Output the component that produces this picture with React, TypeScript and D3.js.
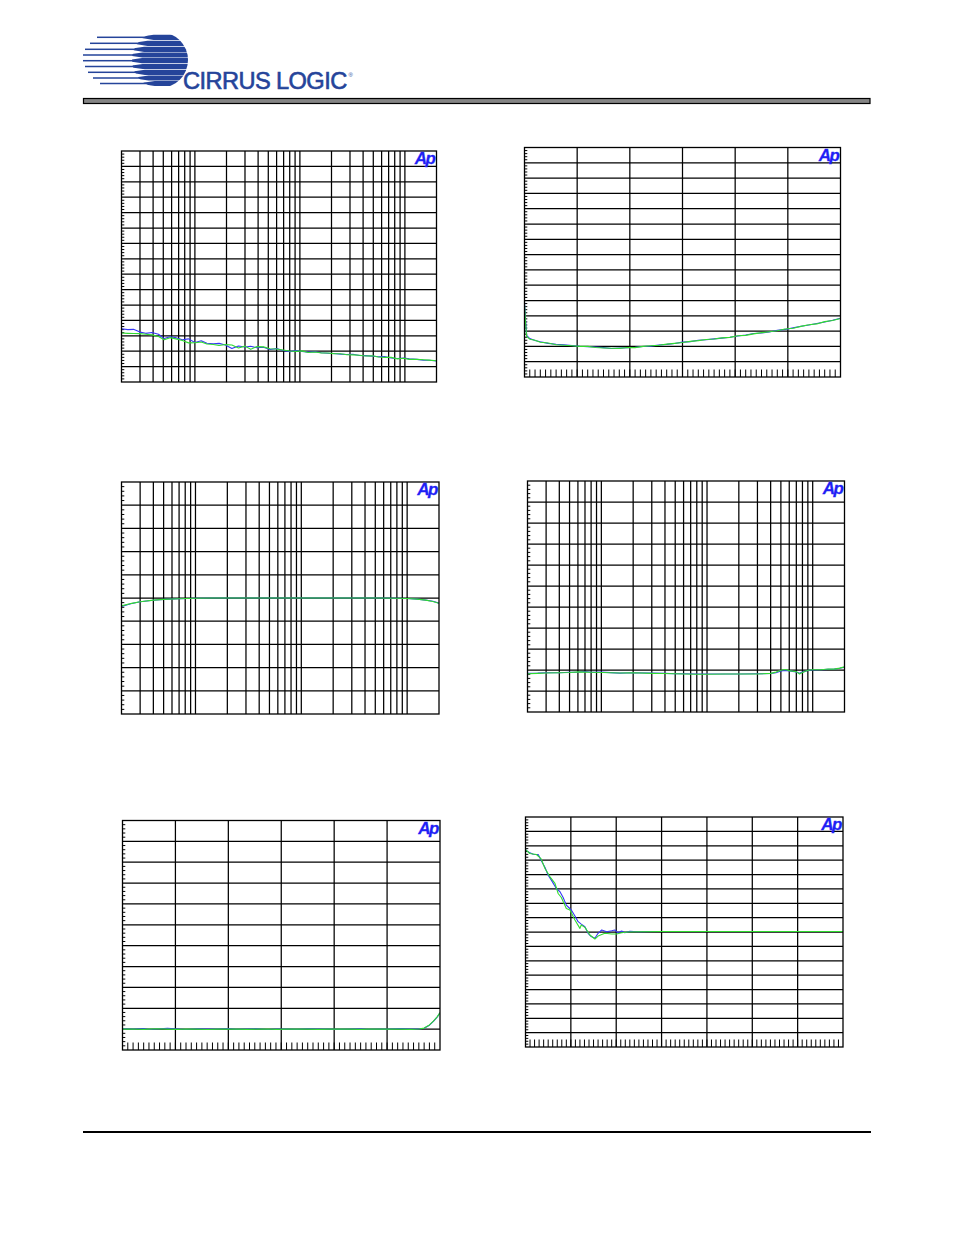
import React from "react";
import * as d3 from "d3";

// ---------- data ----------

// plot 1: noise vs frequency (log 20 Hz - 20 kHz)
const FREQ_1 = [20, 23, 26, 30, 34, 39, 45, 51, 58, 66, 76, 87, 100, 115, 130, 150, 170, 195, 225, 260, 300, 340, 390, 450, 520, 600, 690, 800, 920, 1050, 1200, 1400, 1600, 1850, 2100, 2450, 2800, 3200, 3700, 4200, 4900, 5600, 6400, 7400, 8500, 9800, 11000, 13000, 15000, 17000, 20000];
const NOISE_A = [-115.4, -116.0, -115.8, -117.6, -118.4, -117.9, -119.0, -121.8, -120.6, -121.2, -122.6, -122.0, -124.3, -123.2, -124.8, -125.2, -124.9, -126.0, -128.2, -126.6, -127.3, -126.8, -127.8, -127.4, -128.9, -128.3, -129.5, -130.3, -129.6, -130.2, -130.6, -130.4, -131.0, -131.3, -131.5, -131.9, -132.1, -132.0, -132.8, -132.9, -133.2, -133.6, -133.5, -134.4, -134.7, -134.5, -135.0, -135.3, -135.8, -135.9, -136.4];
const NOISE_B = [-118.2, -118.4, -118.5, -118.6, -119.0, -119.4, -120.5, -122.6, -121.2, -122.0, -123.1, -124.6, -124.5, -124.0, -125.3, -125.6, -126.3, -125.7, -126.0, -127.9, -126.7, -128.8, -127.0, -127.2, -128.4, -128.6, -129.2, -129.9, -130.1, -129.8, -130.8, -130.5, -131.2, -131.2, -131.6, -131.7, -132.3, -132.4, -132.6, -133.1, -133.0, -133.8, -134.0, -134.0, -135.0, -134.6, -135.3, -135.3, -135.6, -135.8, -136.2];

// plot 2: THD+N vs amplitude (linear)
const AMPL_2 = [-120, -119.6, -119.2, -118, -116, -114, -111, -108, -105, -102, -99, -96, -93, -90, -87, -84, -81, -78, -75, -72, -69, -66, -63, -60, -57, -54, -51, -48, -45, -42, -39, -36, -33, -30, -27, -24, -21, -18, -15, -12, -9, -6, -3, 0];
const THDN_A = [-101.5, -113.0, -122.8, -124.9, -126.2, -127.0, -128.0, -128.6, -129.0, -129.4, -129.9, -130.2, -130.4, -130.8, -131.4, -131.1, -130.9, -130.6, -130.1, -129.8, -129.1, -128.7, -128.1, -127.2, -126.9, -126.0, -125.7, -125.1, -124.6, -124.0, -123.2, -122.6, -121.6, -121.2, -120.6, -119.5, -118.9, -117.9, -116.8, -116.0, -115.0, -114.0, -112.9, -111.6];
const THDN_B = [-102.5, -114.5, -123.4, -125.3, -126.0, -127.3, -127.8, -128.9, -129.2, -129.6, -130.0, -130.0, -130.7, -131.0, -131.2, -131.3, -130.7, -130.8, -130.0, -129.6, -129.3, -128.5, -128.0, -127.5, -126.7, -126.2, -125.5, -125.2, -124.4, -124.1, -123.0, -122.8, -121.8, -121.0, -120.4, -119.8, -118.6, -118.1, -116.9, -115.8, -115.3, -113.8, -113.1, -111.8];

// plot 3: frequency response (log)
const FREQ_3 = [20, 25, 30, 40, 50, 70, 100, 150, 200, 500, 1000, 2000, 5000, 8000, 10000, 12500, 15000, 17500, 20000];
const RESP_A = [-0.036, -0.024, -0.016, -0.010, -0.006, -0.003, -0.001, 0, 0, 0, 0, 0, 0, -0.001, -0.002, -0.005, -0.009, -0.014, -0.022];
const RESP_B = [-0.034, -0.023, -0.016, -0.009, -0.006, -0.003, -0.001, 0, 0, 0, 0, 0, 0, -0.001, -0.002, -0.005, -0.009, -0.015, -0.023];

// plot 4: crosstalk vs frequency (log)
const FREQ_4 = [20, 25, 30, 40, 50, 60, 70, 80, 100, 150, 200, 300, 400, 500, 600, 800, 1000, 1500, 2000, 3000, 4000, 4500, 5000, 5500, 6000, 7000, 7500, 8000, 9000, 10000, 12000, 14000, 16000, 18000, 20000];
const XTALK_A = [-91.6, -91.5, -91.3, -91.3, -91.1, -91.0, -90.7, -91.1, -91.0, -91.5, -91.3, -91.5, -91.6, -91.8, -91.8, -91.9, -91.9, -91.9, -91.9, -91.8, -91.7, -91.3, -90.5, -90.2, -90.4, -90.9, -91.6, -91.0, -90.2, -90.0, -89.9, -89.7, -89.6, -89.2, -88.7];
const XTALK_B = [-91.8, -91.6, -91.4, -91.3, -91.2, -90.9, -91.0, -91.1, -91.2, -91.4, -91.3, -91.6, -91.7, -91.8, -91.9, -92.0, -92.0, -91.9, -91.9, -91.9, -91.6, -91.0, -90.1, -89.8, -90.3, -90.8, -91.9, -91.2, -90.1, -89.9, -89.9, -89.5, -89.6, -89.1, -88.5];

// plot 5: passband (linear)
const FREQ_5 = [0, 0.8, 1.6, 2.0, 2.6, 3.4, 4.2, 4.8, 5.6, 6.4, 7.2, 8.0, 8.6, 9.4, 10.2, 11.0, 11.6, 12.4, 13.2, 14.0, 14.8, 15.6, 16.4, 17.2, 18.0, 18.6, 19.4, 20.2, 21.0, 21.8, 22.4, 22.8, 23.2, 23.5, 23.8, 24.0];
const PASS_A = [0.2, 0, 0.3, -0.2, 0.1, 0.4, 0.1, -0.2, 0.2, 0, 0.1, 0.3, -0.1, 0, 0.2, -0.2, 0.1, 0, -0.1, 0.2, 0, 0.1, -0.1, 0, 0.2, -0.1, 0.1, 0, 0.3, 0, 0.1, 0.4, 1.9, 3.7, 5.9, 7.8];
const PASS_B = [0, 0.1, -0.1, 0, 0.2, 0, -0.1, 0.1, 0, -0.2, 0, 0.1, 0, -0.1, 0, 0.1, -0.1, 0, 0.1, 0, -0.1, 0, 0.1, 0, -0.1, 0, 0.1, 0, 0, -0.1, 0.1, 0.5, 2.0, 3.8, 6.0, 7.9];

// plot 6: settling (linear)
const TIME_6A = [0, 0.6, 1.7, 2.8, 3.5, 4.3, 5.0, 5.7, 6.8, 7.6, 8.3, 9.0, 10.1, 10.9, 11.6, 12.3, 13.1, 13.8, 14.5, 15.3, 16.0, 16.8, 17.9, 19.0, 19.7, 20.3, 21.2, 21.9, 23.0, 24.8, 28, 35, 70];
const SETTLE_A = [-22.7, -24.3, -25.9, -26.1, -30.5, -35.1, -40.5, -43.9, -49.7, -52.0, -56.0, -61.3, -64.7, -68.9, -72.8, -74.5, -76.3, -80.9, -83.2, -84.4, -80.9, -78.6, -79.8, -79.1, -78.6, -80.5, -79.3, -80.5, -79.5, -79.8, -79.7, -79.6, -79.6];
const TIME_6B = [0, 0.95, 2.4, 3.4, 4.3, 5.4, 6.5, 7.2, 7.9, 9.0, 9.8, 10.9, 12.0, 12.3, 13.1, 14.2, 15.3, 16.0, 17.5, 19.0, 20.1, 21.2, 22.6, 24.8, 30, 70];
const SETTLE_B = [-22.7, -25.4, -26.1, -28.9, -35.8, -41.6, -46.2, -53.2, -56.0, -63.6, -64.7, -71.7, -77.5, -75.1, -76.8, -82.1, -84.9, -82.8, -80.9, -81.4, -81.4, -80.5, -80.0, -79.8, -79.7, -79.7];

const LOG_GRID = [30, 40, 50, 60, 70, 80, 90, 100, 200, 300, 400, 500, 600, 700, 800, 900, 1000, 2000, 3000, 4000, 5000, 6000, 7000, 8000, 9000, 10000];

const BLUE = "#3636f6";
const GREEN = "#30dc30";

type Series = { x: number[]; y: number[]; color: string };
type PlotSpec = {
  id: string;
  x0: number; y0: number; x1: number; y1: number;
  log: boolean;
  xDomain: [number, number];
  xGrid: number[];
  xMinor?: number[];
  yDomain: [number, number];
  yStep: number;
  series: Series[];
};

const plots: PlotSpec[] = [
  {
    id: "p1", x0: 121.5, y0: 151, x1: 436.5, y1: 382, log: true,
    xDomain: [20, 20000], xGrid: LOG_GRID,
    yDomain: [-150, 0], yStep: 10,
    series: [{ x: FREQ_1, y: NOISE_A, color: BLUE }, { x: FREQ_1, y: NOISE_B, color: GREEN }],
  },
  {
    id: "p2", x0: 524.5, y0: 147.5, x1: 840.5, y1: 377, log: false,
    xDomain: [-120, 0], xGrid: d3.range(-100, 0, 20), xMinor: d3.range(-118, 0, 2),
    yDomain: [-150, 0], yStep: 10,
    series: [{ x: AMPL_2, y: THDN_A, color: BLUE }, { x: AMPL_2, y: THDN_B, color: GREEN }],
  },
  {
    id: "p3", x0: 121.5, y0: 482, x1: 439, y1: 714, log: true,
    xDomain: [20, 20000], xGrid: LOG_GRID,
    yDomain: [-0.5, 0.5], yStep: 0.1,
    series: [{ x: FREQ_3, y: RESP_A, color: BLUE }, { x: FREQ_3, y: RESP_B, color: GREEN }],
  },
  {
    id: "p4", x0: 527.5, y0: 481, x1: 844.5, y1: 712, log: true,
    xDomain: [20, 20000], xGrid: LOG_GRID,
    yDomain: [-110, 0], yStep: 10,
    series: [{ x: FREQ_4, y: XTALK_A, color: BLUE }, { x: FREQ_4, y: XTALK_B, color: GREEN }],
  },
  {
    id: "p5", x0: 122.5, y0: 820.5, x1: 440, y1: 1050, log: false,
    xDomain: [0, 24], xGrid: d3.range(4, 24, 4), xMinor: d3.range(0.4, 24, 0.4),
    yDomain: [-10, 100], yStep: 10,
    series: [{ x: FREQ_5, y: PASS_A, color: BLUE }, { x: FREQ_5, y: PASS_B, color: GREEN }],
  },
  {
    id: "p6", x0: 525.5, y0: 817, x1: 843, y1: 1047, log: false,
    xDomain: [0, 70], xGrid: d3.range(10, 70, 10), xMinor: d3.range(1, 70, 1),
    yDomain: [-160, 0], yStep: 10,
    series: [{ x: TIME_6A, y: SETTLE_A, color: BLUE }, { x: TIME_6B, y: SETTLE_B, color: GREEN }],
  },
];

function Plot({ spec }: { spec: PlotSpec }) {
  const { x0, y0, x1, y1 } = spec;
  const x: any = spec.log
    ? d3.scaleLog().domain(spec.xDomain).range([x0, x1])
    : d3.scaleLinear().domain(spec.xDomain).range([x0, x1]);
  const y = d3.scaleLinear().domain(spec.yDomain).range([y1, y0]);
  const [ymin, ymax] = spec.yDomain;
  const nDiv = Math.round((ymax - ymin) / spec.yStep);
  const yGrid = d3.range(1, nDiv).map((i) => ymin + i * spec.yStep);
  const yMinor = d3.range(1, nDiv * 5).filter((i) => i % 5 !== 0).map((i) => ymin + (i * spec.yStep) / 5);
  const line = d3.line<[number, number]>().x((d) => x(d[0])).y((d) => y(d[1]));
  const clipId = `clip-${spec.id}`;

  return (
    <g>
      <defs>
        <clipPath id={clipId}>
          <rect x={x0} y={y0} width={x1 - x0} height={y1 - y0} />
        </clipPath>
      </defs>
      {spec.xGrid.map((v) => (
        <line key={`xg${v}`} x1={x(v)} x2={x(v)} y1={y0} y2={y1} stroke="#000" strokeWidth={1.25} />
      ))}
      {yGrid.map((v) => (
        <line key={`yg${v}`} x1={x0} x2={x1} y1={y(v)} y2={y(v)} stroke="#000" strokeWidth={1.25} />
      ))}
      {yMinor.map((v) => (
        <line key={`ym${v}`} x1={x0} x2={x0 + 2.8} y1={y(v)} y2={y(v)} stroke="#000" strokeWidth={1} />
      ))}
      {(spec.xMinor || []).map((v) => (
        <line key={`xm${v}`} x1={x(v)} x2={x(v)} y1={y1 - 7.5} y2={y1} stroke="#000" strokeWidth={1} />
      ))}
      <g clipPath={`url(#${clipId})`}>
        {spec.series.map((s, i) => (
          <path
            key={i}
            d={line(s.x.map((v, j) => [v, s.y[j]] as [number, number])) || ""}
            fill="none"
            stroke={s.color}
            strokeWidth={1.1}
            strokeLinejoin="round"
          />
        ))}
      </g>
      <rect x={x0} y={y0} width={x1 - x0} height={y1 - y0} fill="none" stroke="#000" strokeWidth={1.3} />
      <text
        x={x1 - 2}
        y={y0 + 13}
        textAnchor="end"
        fontFamily="Liberation Sans, Arial, sans-serif"
        fontWeight="bold"
        fontStyle="italic"
        fontSize={17}
        letterSpacing={-1.5}
        fill="#1f1ff5"
        stroke="#1f1ff5"
        strokeWidth={0.3}
      >
        Ap
      </text>
    </g>
  );
}

const LOGO_BLUE = "#25449a";

function Logo() {
  const cx = 160;
  const cy = 60;
  const r = 28;
  const rows = [37.3, 43.3, 49.3, 55, 60.7, 66.5, 72.3, 78, 83.5];
  const starts = [97, 90, 85, 83, 83, 85, 88, 93, 100];
  return (
    <g>
      <defs>
        <clipPath id="globe">
          <circle cx={cx} cy={cy} r={r} />
        </clipPath>
      </defs>
      {rows.map((ry, i) => {
        const half = Math.sqrt(Math.max(0, r * r - (ry - cy) * (ry - cy)));
        const xl = cx - half;
        const pts = [
          [xl - 2, ry - 0.8], [xl + 10, ry - 2.6], [cx + 40, ry - 2.6],
          [cx + 40, ry + 2.6], [xl + 10, ry + 2.6], [xl - 2, ry + 0.8],
        ];
        return (
          <g key={i}>
            <rect x={starts[i]} y={ry - 0.75} width={xl - starts[i] + 2} height={1.5} fill={LOGO_BLUE} />
            <polygon points={pts.map((p) => p.join(",")).join(" ")} fill={LOGO_BLUE} clipPath="url(#globe)" />
          </g>
        );
      })}
      <g transform="translate(183,89) scale(0.985,1)">
        <text
          x={0}
          y={0}
          fontFamily="Liberation Sans, Arial, sans-serif"
          fontSize={24}
          fill={LOGO_BLUE}
          stroke={LOGO_BLUE}
          strokeWidth={0.6}
          letterSpacing={-0.6}
        >
          CIRRUS LOGIC
          <tspan fontSize={6} dx={2} dy={-12} strokeWidth={0}>®</tspan>
        </text>
      </g>
    </g>
  );
}

export default function App() {
  return (
    <svg
      width={954}
      height={1235}
      style={{ position: "absolute", left: 0, top: 0, background: "#fff" }}
    >
      <rect x={0} y={0} width={954} height={1235} fill="#fff" />
      <Logo />
      <rect x={83.5} y={98.5} width={786.5} height={5} fill="#858585" stroke="#000" strokeWidth={1.2} />
      {plots.map((p) => (
        <Plot key={p.id} spec={p} />
      ))}
      <line x1={83} x2={871} y1={1132} y2={1132} stroke="#000" strokeWidth={2} />
    </svg>
  );
}
